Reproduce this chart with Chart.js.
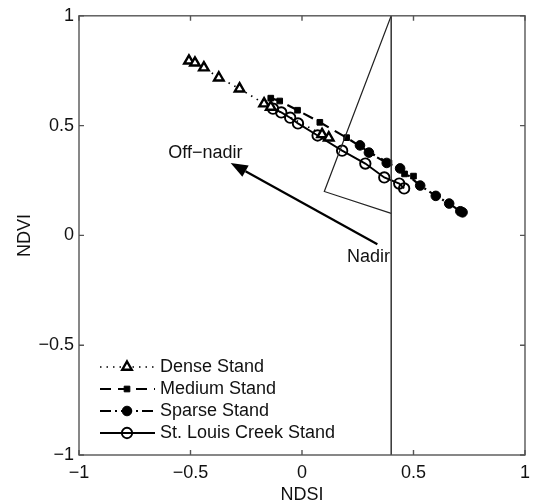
<!DOCTYPE html>
<html>
<head>
<meta charset="utf-8">
<script src="https://cdn.jsdelivr.net/npm/chart.js@4.4.1/dist/chart.umd.min.js"></script>
<style>
    html, body { margin: 0; padding: 0; background: #fff; }
    #wrap { width: 537px; height: 504px; }
</style>
</head>
<body>
<div id="wrap"><canvas id="myChart" width="537" height="504"></canvas></div>
<script>
// values (NDSI on x, NDVI on y)
const seriesNames = ['Dense Stand', 'Medium Stand', 'Sparse Stand', 'St. Louis Creek Stand'];

const denseX = [-0.507, -0.48, -0.44, -0.373, -0.28, -0.17, -0.14, 0.09, 0.12];
const denseY = [0.795, 0.786, 0.764, 0.718, 0.668, 0.6, 0.585, 0.46, 0.445];

const mediumX = [-0.14, -0.1, -0.02, 0.08, 0.2, 0.3, 0.39, 0.46, 0.5];
const mediumY = [0.625, 0.612, 0.57, 0.515, 0.445, 0.38, 0.33, 0.28, 0.27];

const sparseX = [0.26, 0.3, 0.38, 0.44, 0.53, 0.6, 0.66, 0.71, 0.72];
const sparseY = [0.41, 0.377, 0.33, 0.305, 0.227, 0.18, 0.145, 0.11, 0.105];

const stlouisX = [-0.13, -0.093, -0.053, -0.018, 0.07, 0.18, 0.284, 0.369, 0.436, 0.458];
const stlouisY = [0.577, 0.56, 0.536, 0.51, 0.455, 0.386, 0.327, 0.264, 0.236, 0.214];

const tickValues = [-1, -0.5, 0, 0.5, 1];

// annotation geometry
const nadirLineX = [0.4, 0.4];
const nadirLineY = [-1, 1];
const wedgeX = [0.4, 0.1, 0.4];
const wedgeY = [1, 0.2, 0.1];
const arrowX = [0.338, -0.32];
const arrowY = [-0.04, 0.33];
const labelText = ['Off\u2212nadir', 'Nadir'];
const labelX = [-0.6, 0.395];
const labelY = [0.375, -0.1];

const toPts = (xs, ys) => xs.map((x, i) => ({ x: x, y: ys[i] }));
const fmt = (v) => String(v).replace('-', '\u2212');
const FONT = '18px "Liberation Sans", Arial, sans-serif';

const styles = [
    { dash: [1.5, 5], width: 1.7, point: 'triangle', radius: 5.5, fill: '#fff', bw: 2.4 },
    { dash: [11, 7], width: 2.2, point: 'rect', radius: 4, fill: '#000', bw: 1 },
    { dash: [11, 4, 2, 4], width: 2.2, point: 'circle', radius: 4.8, fill: '#000', bw: 1 },
    { dash: [], width: 1.9, point: 'circle', radius: 5.2, fill: 'rgba(0,0,0,0)', bw: 1.9 }
];

const seriesData = [
    toPts(denseX, denseY),
    toPts(mediumX, mediumY),
    toPts(sparseX, sparseY),
    toPts(stlouisX, stlouisY)
];

const datasets = [
    {
        data: toPts(nadirLineX, nadirLineY), showLine: true, pointRadius: 0,
        borderColor: '#333', borderWidth: 1.5
    },
    {
        data: toPts(wedgeX, wedgeY), showLine: true, pointRadius: 0,
        borderColor: '#222', borderWidth: 1.2
    }
];
seriesData.forEach((pts, i) => {
    const s = styles[i];
    datasets.push({
        label: seriesNames[i],
        data: pts,
        showLine: true,
        borderColor: '#000',
        borderWidth: s.width,
        borderDash: s.dash,
        pointStyle: s.point,
        pointRadius: s.radius,
        pointBackgroundColor: s.fill,
        pointBorderColor: '#000',
        pointBorderWidth: s.bw
    });
});

const framePlugin = {
    id: 'frame',
    afterDraw(chart) {
        const ctx = chart.ctx;
        const a = chart.chartArea;
        const xs = chart.scales.x, ys = chart.scales.y;
        ctx.save();

        // axes box with inward ticks
        ctx.strokeStyle = '#555';
        ctx.lineWidth = 1.4;
        ctx.setLineDash([]);
        ctx.strokeRect(a.left, a.top, a.right - a.left, a.bottom - a.top);
        ctx.beginPath();
        tickValues.forEach((v) => {
            const px = xs.getPixelForValue(v);
            ctx.moveTo(px, a.bottom); ctx.lineTo(px, a.bottom - 5);
            ctx.moveTo(px, a.top); ctx.lineTo(px, a.top + 5);
            const py = ys.getPixelForValue(v);
            ctx.moveTo(a.left, py); ctx.lineTo(a.left + 5, py);
            ctx.moveTo(a.right, py); ctx.lineTo(a.right - 5, py);
        });
        ctx.stroke();

        // arrow
        const x0 = xs.getPixelForValue(arrowX[0]), y0 = ys.getPixelForValue(arrowY[0]);
        const x1 = xs.getPixelForValue(arrowX[1]), y1 = ys.getPixelForValue(arrowY[1]);
        const ang = Math.atan2(y1 - y0, x1 - x0);
        const hl = 17, hw = 6.5;
        const bx = x1 - hl * Math.cos(ang), by = y1 - hl * Math.sin(ang);
        ctx.strokeStyle = '#000';
        ctx.lineWidth = 2.2;
        ctx.beginPath();
        ctx.moveTo(x0, y0); ctx.lineTo(bx, by);
        ctx.stroke();
        ctx.fillStyle = '#000';
        ctx.beginPath();
        ctx.moveTo(x1, y1);
        ctx.lineTo(bx + hw * Math.sin(ang), by - hw * Math.cos(ang));
        ctx.lineTo(bx - hw * Math.sin(ang), by + hw * Math.cos(ang));
        ctx.closePath();
        ctx.fill();

        // text labels
        ctx.font = FONT;
        ctx.fillStyle = '#111';
        ctx.textBaseline = 'middle';
        ctx.textAlign = 'left';
        ctx.fillText(labelText[0], xs.getPixelForValue(labelX[0]), ys.getPixelForValue(labelY[0]));
        ctx.textAlign = 'right';
        ctx.fillText(labelText[1], xs.getPixelForValue(labelX[1]), ys.getPixelForValue(labelY[1]));

        // legend (no box)
        ctx.textAlign = 'left';
        seriesNames.forEach((name, i) => {
            const s = styles[i];
            const y = 367 + i * 22;
            ctx.strokeStyle = '#000';
            ctx.lineWidth = s.width;
            ctx.setLineDash(s.dash);
            ctx.beginPath();
            ctx.moveTo(100, y); ctx.lineTo(155, y);
            ctx.stroke();
            ctx.setLineDash([]);
            ctx.lineWidth = s.bw;
            ctx.fillStyle = s.fill;
            ctx.strokeStyle = '#000';
            Chart.helpers.drawPoint(ctx, { pointStyle: s.point, radius: s.radius, rotation: 0, borderWidth: s.bw }, 127, y);
            ctx.fillStyle = '#111';
            ctx.fillText(name, 160, y);
        });
        ctx.restore();
    }
};

const axisFont = { family: '"Liberation Sans", Arial, sans-serif', size: 18 };
const xTitleFont = { family: '"Liberation Sans", Arial, sans-serif', size: 18, lineHeight: 1.05 };

new Chart(document.getElementById('myChart').getContext('2d'), {
    type: 'scatter',
    data: { datasets: datasets },
    options: {
        responsive: false,
        animation: false,
        layout: { padding: { top: 15, right: 7, left: 0, bottom: 0 } },
        plugins: { legend: { display: false }, tooltip: { enabled: false } },
        scales: {
            x: {
                type: 'linear', min: -1, max: 1,
                afterFit: (s) => { s.height = 49; },
                grid: { display: false, drawTicks: false },
                border: { display: false },
                ticks: { stepSize: 0.5, padding: 7, color: '#111', font: axisFont, callback: fmt },
                title: { display: true, text: 'NDSI', color: '#111', font: xTitleFont, padding: { top: 0, bottom: 0 } }
            },
            y: {
                type: 'linear', min: -1, max: 1,
                afterFit: (s) => { s.width = 79; },
                grid: { display: false, drawTicks: false },
                border: { display: false },
                ticks: { stepSize: 0.5, padding: 5, color: '#111', font: axisFont, callback: fmt },
                title: { display: true, text: 'NDVI', color: '#111', font: axisFont, padding: { top: 14, bottom: 0 } }
            }
        }
    },
    plugins: [framePlugin]
});
</script>
</body>
</html>
